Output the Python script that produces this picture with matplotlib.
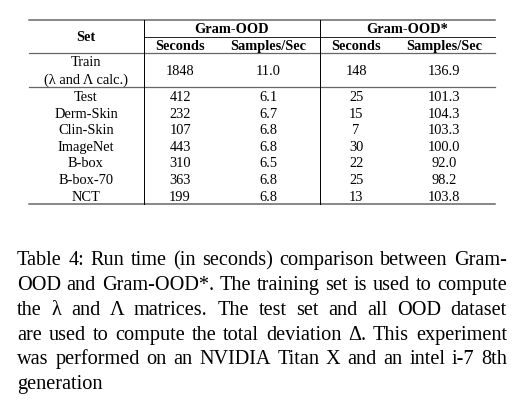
import matplotlib
matplotlib.use("Agg")
import matplotlib.pyplot as plt

# table contents
methods = ["Gram-OOD", "Gram-OOD*"]
sub_cols = ["Seconds", "Samples/Sec"]
sets = ["Test", "Derm-Skin", "Clin-Skin", "ImageNet", "B-box", "B-box-70", "NCT"]
gram_sec = ["412", "232", "107", "443", "310", "363", "199"]
gram_sps = ["6.1", "6.7", "6.8", "6.8", "6.5", "6.8", "6.8"]
star_sec = ["25", "15", "7", "30", "22", "25", "13"]
star_sps = ["101.3", "104.3", "103.3", "100.0", "92.0", "98.2", "103.8"]
train_vals = ["1848", "11.0", "148", "136.9"]

caption = [
    "Table 4: Run time (in seconds) comparison between Gram-",
    "OOD and Gram-OOD*. The training set is used to compute",
    "the \u03bb and \u039b matrices.  The test set and all OOD dataset",
    "are used to compute the total deviation \u0394. This experiment",
    "was performed on an NVIDIA Titan X and an intel i-7 8th",
    "generation",
]

plt.rcParams["font.family"] = ["Liberation Serif", "DejaVu Serif"]
fig = plt.figure(figsize=(5.24, 4.06), dpi=100)
ax = fig.add_axes([0, 0, 1, 1])
ax.set_xlim(0, 524)
ax.set_ylim(406, 0)
ax.axis("off")

fs = 10.4
off = 4.6  # centre -> baseline shift in pixels
left, right = 29, 495
v1, v2 = 143.5, 320
col_x = [180, 268, 356, 444]
set_x = 86

# rules
ax.plot([left, right], [20.7, 20.7], color="#666666", lw=1.1)
ax.plot([v1, right], [37.5, 37.5], color="black", lw=0.6)
ax.plot([left, right], [53.7, 53.7], color="#666666", lw=0.9)
ax.plot([left, right], [88.3, 88.3], color="#666666", lw=0.9)
ax.plot([left, right], [204.7, 204.7], color="#666666", lw=1.1)
ax.plot([v1, v1], [20.7, 204.7], color="black", lw=0.7)
ax.plot([v2, v2], [20.7, 204.7], color="black", lw=0.7)


def cell(x, y, s, bold=False):
    ax.text(x, y + off, s, ha="center", va="baseline", fontsize=fs,
            fontweight="bold" if bold else "normal")


# header
cell(set_x, 36, "Set", True)
cell((v1 + v2) / 2, 28, methods[0], True)
cell((v2 + right) / 2, 28, methods[1], True)
for i, x in enumerate(col_x):
    cell(x, 45.5, sub_cols[i % 2], True)

# train row
cell(set_x, 61.5, "Train")
cell(set_x, 79, "(\u03bb and \u039b calc.)")
for x, v in zip(col_x, train_vals):
    cell(x, 70.5, v)

# other rows
y0, dy = 96.5, 16.6
for i, name in enumerate(sets):
    y = y0 + i * dy
    cell(set_x, y, name)
    for x, v in zip(col_x, [gram_sec[i], gram_sps[i], star_sec[i], star_sps[i]]):
        cell(x, y, v)

# caption, justified word by word
cfs = 14.6
coff = 6.5
cl, cr = 17, 507
fig.canvas.draw()
r = fig.canvas.get_renderer()


def width_of(s):
    t = ax.text(0, 0, s, fontsize=cfs)
    bb = t.get_window_extent(renderer=r)
    t.remove()
    return bb.width


cy0, cdy = 259, 24.7
for k, line in enumerate(caption):
    y = cy0 + k * cdy + coff
    words = line.split()
    if k == len(caption) - 1:
        ax.text(cl, y, line, fontsize=cfs, va="baseline")
        continue
    ws = [width_of(w) for w in words]
    gap = (cr - cl - sum(ws)) / (len(words) - 1)
    x = cl
    for w, wd in zip(words, ws):
        ax.text(x, y, w, fontsize=cfs, va="baseline")
        x += wd + gap

fig.savefig("out.png", dpi=100)
